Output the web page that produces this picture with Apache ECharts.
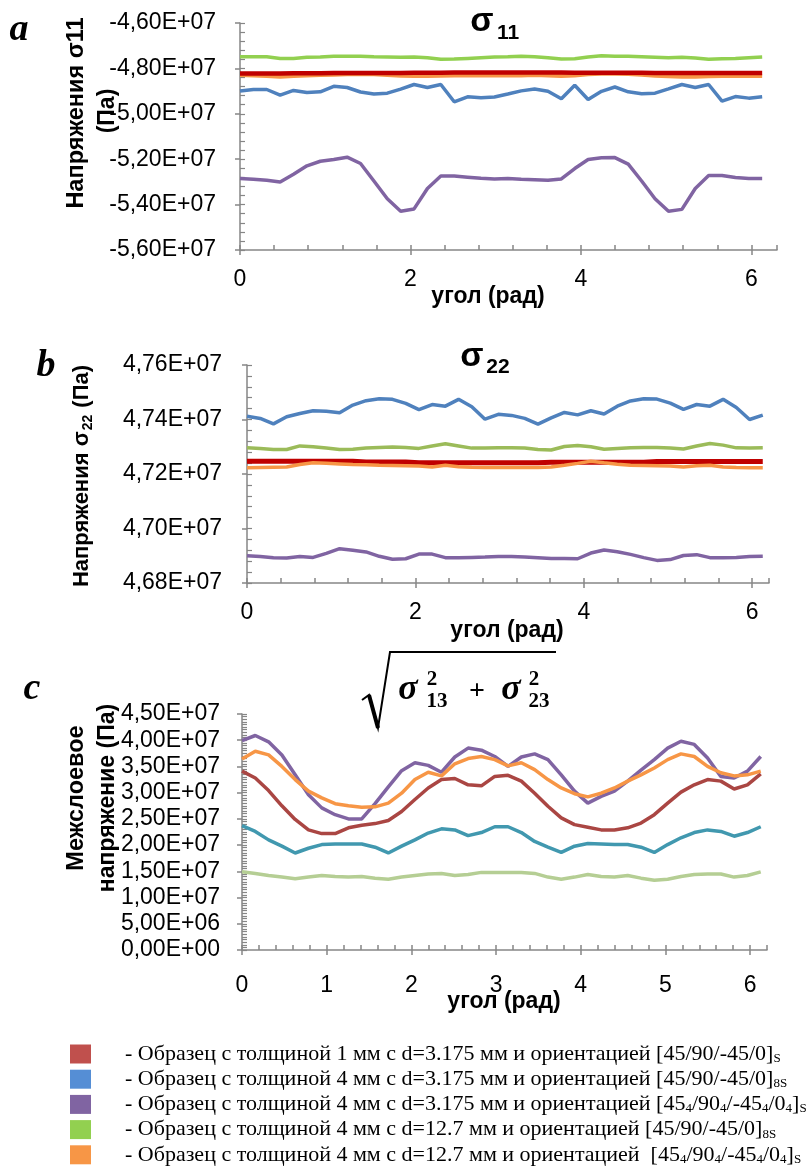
<!DOCTYPE html>
<html>
<head>
<meta charset="utf-8">
<script src="https://cdn.jsdelivr.net/npm/echarts@6/dist/echarts.min.js"></script>
<style>
  html, body { margin: 0; padding: 0; background: #fff; }
  #chart { width: 806px; height: 1167px; }
</style>
</head>
<body>
<div id="chart"></div>
<script>
// угол (рад), шаг pi/20
const angles = [0, 0.157, 0.314, 0.471, 0.628, 0.785, 0.942, 1.100, 1.257, 1.414,
  1.571, 1.728, 1.885, 2.042, 2.199, 2.356, 2.513, 2.670, 2.827, 2.985,
  3.142, 3.299, 3.456, 3.613, 3.770, 3.927, 4.084, 4.241, 4.398, 4.555,
  4.712, 4.869, 5.027, 5.184, 5.341, 5.498, 5.655, 5.812, 5.969, 6.126]

const names = [
  'Образец с толщиной 1 мм с d=3.175 мм и ориентацией [45/90/-45/0]S',
  'Образец с толщиной 4 мм с d=3.175 мм и ориентацией [45/90/-45/0]8S',
  'Образец с толщиной 4 мм с d=3.175 мм и ориентацией [454/904/-454/04]S',
  'Образец с толщиной 4 мм с d=12.7 мм и ориентацией [45/90/-45/0]8S',
  'Образец с толщиной 4 мм с d=12.7 мм и ориентацией [454/904/-454/04]S'
]
const legendText = [
  '{t|- Образец с толщиной 1 мм с d=3.175 мм и ориентацией [45/90/-45/0]}{s|S}',
  '{t|- Образец с толщиной 4 мм с d=3.175 мм и ориентацией [45/90/-45/0]}{s|8S}',
  '{t|- Образец с толщиной 4 мм с d=3.175 мм и ориентацией [45}{s|4}{t|/90}{s|4}{t|/-45}{s|4}{t|/0}{s|4}{t|]}{s|S}',
  '{t|- Образец с толщиной 4 мм с d=12.7 мм и ориентацией [45/90/-45/0]}{s|8S}',
  '{t|- Образец с толщиной 4 мм с d=12.7 мм и ориентацией  [45}{s|4}{t|/90}{s|4}{t|/-45}{s|4}{t|/0}{s|4}{t|]}{s|S}'
]
const legendColors = ['#C0504D', '#558ED5', '#8064A2', '#92D050', '#F79646']

// a: sigma11, Па
const s11_1mm = [-4.822e7, -4.822e7, -4.822e7, -4.822e7, -4.821e7, -4.821e7, -4.821e7, -4.820e7, -4.820e7, -4.820e7,
  -4.820e7, -4.820e7, -4.820e7, -4.819e7, -4.819e7, -4.819e7, -4.818e7, -4.818e7, -4.818e7, -4.818e7,
  -4.818e7, -4.818e7, -4.818e7, -4.818e7, -4.818e7, -4.819e7, -4.819e7, -4.819e7, -4.819e7, -4.819e7,
  -4.819e7, -4.820e7, -4.820e7, -4.820e7, -4.820e7, -4.820e7, -4.820e7, -4.820e7, -4.820e7, -4.820e7]
const s11_4mm_d3 = [-4.900e7, -4.893e7, -4.893e7, -4.918e7, -4.897e7, -4.906e7, -4.903e7, -4.879e7, -4.884e7, -4.904e7,
  -4.913e7, -4.909e7, -4.891e7, -4.871e7, -4.884e7, -4.871e7, -4.947e7, -4.925e7, -4.929e7, -4.926e7,
  -4.913e7, -4.899e7, -4.891e7, -4.901e7, -4.934e7, -4.874e7, -4.937e7, -4.901e7, -4.882e7, -4.903e7,
  -4.912e7, -4.909e7, -4.890e7, -4.871e7, -4.884e7, -4.871e7, -4.944e7, -4.924e7, -4.931e7, -4.925e7]
const s11_4mm_d3_q = [-5.285e7, -5.288e7, -5.293e7, -5.300e7, -5.266e7, -5.229e7, -5.209e7, -5.201e7, -5.191e7, -5.219e7,
  -5.296e7, -5.374e7, -5.429e7, -5.419e7, -5.329e7, -5.274e7, -5.274e7, -5.279e7, -5.284e7, -5.287e7,
  -5.285e7, -5.288e7, -5.290e7, -5.293e7, -5.287e7, -5.241e7, -5.201e7, -5.194e7, -5.193e7, -5.222e7,
  -5.296e7, -5.374e7, -5.429e7, -5.421e7, -5.329e7, -5.272e7, -5.272e7, -5.281e7, -5.285e7, -5.285e7]
const s11_4mm_d12 = [-4.749e7, -4.749e7, -4.749e7, -4.756e7, -4.756e7, -4.751e7, -4.750e7, -4.746e7, -4.746e7, -4.747e7,
  -4.749e7, -4.750e7, -4.751e7, -4.750e7, -4.753e7, -4.760e7, -4.759e7, -4.756e7, -4.753e7, -4.750e7,
  -4.749e7, -4.746e7, -4.749e7, -4.753e7, -4.759e7, -4.757e7, -4.750e7, -4.744e7, -4.746e7, -4.747e7,
  -4.749e7, -4.751e7, -4.753e7, -4.751e7, -4.754e7, -4.760e7, -4.757e7, -4.756e7, -4.753e7, -4.750e7]
const s11_4mm_d12_q = [-4.829e7, -4.831e7, -4.834e7, -4.837e7, -4.834e7, -4.831e7, -4.829e7, -4.828e7, -4.826e7, -4.825e7,
  -4.826e7, -4.829e7, -4.832e7, -4.834e7, -4.834e7, -4.832e7, -4.831e7, -4.831e7, -4.831e7, -4.831e7,
  -4.831e7, -4.831e7, -4.829e7, -4.831e7, -4.834e7, -4.831e7, -4.826e7, -4.824e7, -4.824e7, -4.825e7,
  -4.828e7, -4.832e7, -4.835e7, -4.837e7, -4.837e7, -4.835e7, -4.834e7, -4.834e7, -4.834e7, -4.834e7]

// b: sigma22, Па
const s22_1mm = [4.7247e7, 4.7247e7, 4.7247e7, 4.7247e7, 4.7247e7, 4.7247e7, 4.7247e7, 4.7247e7, 4.7247e7, 4.7244e7,
  4.7244e7, 4.7244e7, 4.7244e7, 4.7241e7, 4.7241e7, 4.7241e7, 4.7241e7, 4.7241e7, 4.7241e7, 4.7241e7,
  4.7241e7, 4.7241e7, 4.7241e7, 4.7243e7, 4.7243e7, 4.7243e7, 4.7243e7, 4.7243e7, 4.7243e7, 4.7243e7,
  4.7243e7, 4.7246e7, 4.7246e7, 4.7246e7, 4.7246e7, 4.7246e7, 4.7246e7, 4.7246e7, 4.7246e7, 4.7246e7]
const s22_4mm_d3 = [4.7412e7, 4.7404e7, 4.7384e7, 4.7410e7, 4.7422e7, 4.7432e7, 4.7430e7, 4.7425e7, 4.7453e7, 4.7469e7,
  4.7476e7, 4.7474e7, 4.7459e7, 4.7436e7, 4.7455e7, 4.7449e7, 4.7474e7, 4.7447e7, 4.7401e7, 4.7419e7,
  4.7415e7, 4.7404e7, 4.7383e7, 4.7406e7, 4.7426e7, 4.7417e7, 4.7432e7, 4.7420e7, 4.7449e7, 4.7468e7,
  4.7476e7, 4.7475e7, 4.7460e7, 4.7437e7, 4.7455e7, 4.7449e7, 4.7474e7, 4.7444e7, 4.7400e7, 4.7416e7]
const s22_4mm_d3_q = [4.6900e7, 4.6897e7, 4.6893e7, 4.6892e7, 4.6897e7, 4.6894e7, 4.6909e7, 4.6926e7, 4.6920e7, 4.6914e7,
  4.6898e7, 4.6887e7, 4.6889e7, 4.6906e7, 4.6906e7, 4.6893e7, 4.6893e7, 4.6894e7, 4.6895e7, 4.6897e7,
  4.6897e7, 4.6895e7, 4.6893e7, 4.6890e7, 4.6890e7, 4.6889e7, 4.6910e7, 4.6921e7, 4.6915e7, 4.6905e7,
  4.6893e7, 4.6883e7, 4.6886e7, 4.6901e7, 4.6904e7, 4.6893e7, 4.6893e7, 4.6894e7, 4.6897e7, 4.6898e7]
const s22_4mm_d12 = [4.7296e7, 4.7294e7, 4.7290e7, 4.7290e7, 4.7303e7, 4.7300e7, 4.7295e7, 4.7290e7, 4.7291e7, 4.7295e7,
  4.7297e7, 4.7299e7, 4.7297e7, 4.7294e7, 4.7303e7, 4.7311e7, 4.7303e7, 4.7295e7, 4.7295e7, 4.7296e7,
  4.7296e7, 4.7295e7, 4.7290e7, 4.7288e7, 4.7301e7, 4.7305e7, 4.7300e7, 4.7291e7, 4.7294e7, 4.7296e7,
  4.7297e7, 4.7297e7, 4.7295e7, 4.7292e7, 4.7303e7, 4.7312e7, 4.7306e7, 4.7296e7, 4.7295e7, 4.7296e7]
const s22_4mm_d12_q = [4.7223e7, 4.7224e7, 4.7225e7, 4.7226e7, 4.7235e7, 4.7241e7, 4.7239e7, 4.7237e7, 4.7235e7, 4.7234e7,
  4.7232e7, 4.7231e7, 4.7230e7, 4.7229e7, 4.7226e7, 4.7232e7, 4.7227e7, 4.7225e7, 4.7224e7, 4.7224e7,
  4.7224e7, 4.7224e7, 4.7224e7, 4.7226e7, 4.7232e7, 4.7239e7, 4.7247e7, 4.7241e7, 4.7236e7, 4.7232e7,
  4.7231e7, 4.7230e7, 4.7229e7, 4.7226e7, 4.7230e7, 4.7232e7, 4.7226e7, 4.7224e7, 4.7223e7, 4.7223e7]

// c: межслоевое напряжение sqrt(s13^2 + s23^2), Па
const s13_1mm = [3.41e7, 3.28e7, 3.04e7, 2.75e7, 2.49e7, 2.29e7, 2.22e7, 2.22e7, 2.33e7, 2.38e7,
  2.41e7, 2.47e7, 2.64e7, 2.87e7, 3.09e7, 3.25e7, 3.27e7, 3.15e7, 3.13e7, 3.31e7,
  3.33e7, 3.22e7, 2.99e7, 2.74e7, 2.52e7, 2.39e7, 2.34e7, 2.29e7, 2.29e7, 2.33e7,
  2.42e7, 2.58e7, 2.80e7, 3.01e7, 3.15e7, 3.25e7, 3.22e7, 3.07e7, 3.15e7, 3.36e7]
const s13_4mm_d3 = [2.37e7, 2.26e7, 2.10e7, 1.98e7, 1.85e7, 1.94e7, 2.01e7, 2.02e7, 2.02e7, 2.02e7,
  1.96e7, 1.85e7, 1.98e7, 2.10e7, 2.23e7, 2.31e7, 2.29e7, 2.18e7, 2.24e7, 2.35e7,
  2.35e7, 2.24e7, 2.07e7, 1.96e7, 1.86e7, 1.98e7, 2.03e7, 2.02e7, 2.01e7, 2.01e7,
  1.96e7, 1.86e7, 2.01e7, 2.14e7, 2.24e7, 2.29e7, 2.26e7, 2.17e7, 2.24e7, 2.35e7]
const s13_4mm_d3_q = [3.99e7, 4.09e7, 3.97e7, 3.72e7, 3.34e7, 2.96e7, 2.71e7, 2.58e7, 2.50e7, 2.50e7,
  2.79e7, 3.11e7, 3.42e7, 3.57e7, 3.52e7, 3.39e7, 3.68e7, 3.85e7, 3.81e7, 3.69e7,
  3.50e7, 3.68e7, 3.74e7, 3.63e7, 3.34e7, 3.03e7, 2.80e7, 2.93e7, 3.03e7, 3.22e7,
  3.43e7, 3.63e7, 3.85e7, 3.98e7, 3.92e7, 3.66e7, 3.31e7, 3.28e7, 3.41e7, 3.69e7]
const s13_4mm_d12 = [1.49e7, 1.46e7, 1.42e7, 1.39e7, 1.36e7, 1.39e7, 1.42e7, 1.40e7, 1.39e7, 1.40e7,
  1.37e7, 1.35e7, 1.39e7, 1.42e7, 1.45e7, 1.46e7, 1.42e7, 1.44e7, 1.48e7, 1.48e7,
  1.48e7, 1.48e7, 1.46e7, 1.39e7, 1.35e7, 1.39e7, 1.44e7, 1.40e7, 1.39e7, 1.42e7,
  1.37e7, 1.33e7, 1.35e7, 1.40e7, 1.44e7, 1.45e7, 1.45e7, 1.39e7, 1.42e7, 1.49e7]
const s13_4mm_d12_q = [3.64e7, 3.79e7, 3.72e7, 3.50e7, 3.25e7, 3.03e7, 2.90e7, 2.79e7, 2.75e7, 2.72e7,
  2.73e7, 2.80e7, 2.99e7, 3.25e7, 3.39e7, 3.32e7, 3.55e7, 3.65e7, 3.69e7, 3.63e7,
  3.51e7, 3.57e7, 3.44e7, 3.25e7, 3.09e7, 2.98e7, 2.92e7, 2.99e7, 3.09e7, 3.22e7,
  3.34e7, 3.47e7, 3.63e7, 3.74e7, 3.69e7, 3.50e7, 3.38e7, 3.32e7, 3.34e7, 3.41e7]

const FONT = '"Liberation Sans", Arial, sans-serif'
const SERIF = '"Liberation Serif", "Times New Roman", serif'
const AXIS = '#868686'

// 0,00E+00 как в Excel
function sci (v) {
  if (Math.abs(v) < 1e-9) return '0,00E+00'
  const parts = v.toExponential(2).split('e')
  const e = parseInt(parts[1], 10)
  return parts[0].replace('.', ',') + 'E' + (e < 0 ? '-' : '+') + String(Math.abs(e)).padStart(2, '0')
}

function mainX (grid, max, labels, margin) {
  return {
    type: 'value', gridIndex: grid, position: 'bottom', min: 0, max: max,
    axisLine: { lineStyle: { color: AXIS, width: 1.5 } },
    axisTick: { inside: false, length: 5, customValues: labels, lineStyle: { color: AXIS, width: 1.5 } },
    axisLabel: { customValues: labels, color: '#000', fontSize: 23, fontFamily: FONT, margin: margin },
    splitLine: { show: false }
  }
}
function minorX (grid, max, step) {
  return {
    type: 'value', gridIndex: grid, position: 'bottom', min: 0, max: max, interval: step,
    axisLine: { show: false },
    axisTick: { inside: true, length: 5, lineStyle: { color: AXIS, width: 1.5 } },
    axisLabel: { show: false }, splitLine: { show: false }
  }
}
function mainY (grid, min, max, step, margin) {
  return {
    type: 'value', gridIndex: grid, position: 'left', min: min, max: max, interval: step,
    axisLine: { show: true, lineStyle: { color: AXIS, width: 1.5 } },
    axisTick: { show: true, inside: false, length: 5, lineStyle: { color: AXIS, width: 1.5 } },
    axisLabel: { formatter: sci, color: '#000', fontSize: 23, fontFamily: FONT, margin: margin },
    splitLine: { show: false }
  }
}
function minorY (grid, min, max, step) {
  return {
    type: 'value', gridIndex: grid, position: 'left', min: min, max: max, interval: step,
    axisLine: { show: false },
    axisTick: { show: true, inside: true, length: 5, lineStyle: { color: AXIS, width: 1.2 } },
    axisLabel: { show: false }, splitLine: { show: false }
  }
}

function line (k, axis, vals, color, width, z) {
  return {
    type: 'line', name: names[k], xAxisIndex: axis, yAxisIndex: axis,
    data: angles.map((a, i) => [a, vals[i]]),
    symbol: 'none', showSymbol: false, silent: true, z: z,
    lineStyle: { color: color, width: width }, itemStyle: { color: color }
  }
}

function txt (x, y, text, font, extra) {
  return Object.assign({
    type: 'text', x: x, y: y, silent: true,
    style: { text: text, font: font, fill: '#000', align: 'center', verticalAlign: 'middle' }
  }, extra || {})
}
function rtxt (x, y, text, size) {
  return {
    type: 'text', x: x, y: y, rotation: Math.PI / 2, silent: true,
    style: { text: text, font: 'bold ' + size + 'px ' + FONT, fill: '#000', align: 'center', verticalAlign: 'middle' }
  }
}

const graphics = [
  // подписи панелей
  txt(19, 30, 'a', 'italic bold 38px ' + SERIF),
  txt(46, 366, 'b', 'italic bold 38px ' + SERIF),
  txt(32, 689, 'c', 'italic bold 38px ' + SERIF),
  // заголовки
  txt(482, 22, 'σ', 'bold 34px ' + FONT),
  txt(508, 33, '11', 'bold 21px ' + FONT),
  txt(472, 357, 'σ', 'bold 34px ' + FONT),
  txt(498, 367, '22', 'bold 21px ' + FONT),
  // подписи осей Y
  rtxt(77, 113, 'Напряжения σ11', 23.5),
  rtxt(108, 111, '(Па)', 23),
  {
    type: 'text', x: 83, y: 476, rotation: Math.PI / 2, silent: true,
    style: {
      text: '{t|Напряжения σ}{s|22}{t| (Па)}', align: 'center', verticalAlign: 'middle', fill: '#000',
      rich: {
        t: { fontSize: 22, fontWeight: 'bold', fontFamily: FONT, lineHeight: 24, verticalAlign: 'top' },
        s: { fontSize: 14, fontWeight: 'bold', fontFamily: FONT, lineHeight: 14, padding: [14, 1, 0, 1], verticalAlign: 'bottom' }
      }
    }
  },
  rtxt(77, 798, 'Межслоевое', 23.5),
  rtxt(108, 798, 'напряжение (Па)', 23),
  // подписи осей X
  txt(488, 297, 'угол (рад)', 'bold 23px ' + FONT),
  txt(507, 631, 'угол (рад)', 'bold 23px ' + FONT),
  txt(504, 1002, 'угол (рад)', 'bold 23px ' + FONT),
  // sqrt(s13^2 + s23^2)
  {
    type: 'polyline', silent: true,
    shape: { points: [[362, 700], [369, 695], [378, 728], [390, 652], [556, 652]] },
    style: { stroke: '#000', lineWidth: 2, fill: null }
  },
  {
    type: 'line', silent: true,
    shape: { x1: 369, y1: 695, x2: 378, y2: 728 },
    style: { stroke: '#000', lineWidth: 4 }
  },
  txt(408, 690, 'σ', 'italic bold 36px ' + SERIF),
  txt(432, 680, '2', 'bold 21px ' + SERIF),
  txt(437, 702, '13', 'bold 21px ' + SERIF),
  txt(477, 692, '+', 'bold 28px ' + SERIF),
  txt(511, 690, 'σ', 'italic bold 36px ' + SERIF),
  txt(534, 680, '2', 'bold 21px ' + SERIF),
  txt(539, 702, '23', 'bold 21px ' + SERIF)
]

const option = {
  animation: false,
  backgroundColor: '#fff',
  graphic: graphics,
  grid: [
    { left: 240, top: 23, width: 537, height: 227 },
    { left: 247, top: 365, width: 522, height: 218 },
    { left: 242, top: 714, width: 525, height: 236 }
  ],
  xAxis: [
    mainX(0, 6.3, [0, 2, 4, 6], 18), minorX(0, 6.3, 0.4),
    mainX(1, 6.2, [0, 2, 4, 6], 18), minorX(1, 6.2, 0.4),
    mainX(2, 6.2, [0, 1, 2, 3, 4, 5, 6], 24), minorX(2, 6.2, 0.2)
  ],
  yAxis: [
    mainY(0, -5.6e7, -4.6e7, 2e6, 24), minorY(0, -5.6e7, -4.6e7, 4e5),
    mainY(1, 4.68e7, 4.76e7, 2e5, 25), minorY(1, 4.68e7, 4.76e7, 4e4),
    mainY(2, 0, 4.5e7, 5e6, 22), minorY(2, 0, 4.5e7, 5e5)
  ],
  legend: {
    data: names.map((n, i) => ({ name: n, itemStyle: { color: legendColors[i] } })),
    orient: 'vertical', left: 70, top: 1041, height: 130, padding: 0,
    itemWidth: 21, itemHeight: 19, itemGap: 1.2,
    icon: 'rect', selectedMode: false,
    formatter: n => legendText[names.indexOf(n)],
    textStyle: {
      color: '#000', fontFamily: SERIF, fontSize: 22, padding: [0, 0, 0, 29],
      rich: {
        t: { fontSize: 22, fontFamily: SERIF, color: '#000', lineHeight: 22, verticalAlign: 'top' },
        s: { fontSize: 13, fontFamily: SERIF, color: '#000', lineHeight: 13, padding: [11, 0, 0, 0], verticalAlign: 'bottom' }
      }
    }
  },
  series: [
    line(3, 0, s11_4mm_d12, '#92D050', 3.5, 2),
    line(4, 0, s11_4mm_d12_q, '#F79646', 4, 3),
    line(0, 0, s11_1mm, '#C00000', 4.5, 4),
    line(1, 0, s11_4mm_d3, '#4F81BD', 3.5, 5),
    line(2, 0, s11_4mm_d3_q, '#8064A2', 3.5, 6),

    line(3, 2, s22_4mm_d12, '#9BBB59', 3.5, 2),
    line(0, 2, s22_1mm, '#C00000', 5, 3),
    line(4, 2, s22_4mm_d12_q, '#F79646', 3.5, 4),
    line(1, 2, s22_4mm_d3, '#4F81BD', 3.5, 5),
    line(2, 2, s22_4mm_d3_q, '#8064A2', 3.5, 6),

    line(3, 4, s13_4mm_d12, '#B5CE94', 3.5, 2),
    line(1, 4, s13_4mm_d3, '#4198AF', 3.5, 3),
    line(0, 4, s13_1mm, '#AA4643', 3.5, 4),
    line(2, 4, s13_4mm_d3_q, '#8064A2', 3.5, 5),
    line(4, 4, s13_4mm_d12_q, '#F79646', 3.5, 6)
  ]
}

const chart = echarts.init(document.getElementById('chart'))
chart.setOption(option)
</script>
</body>
</html>
